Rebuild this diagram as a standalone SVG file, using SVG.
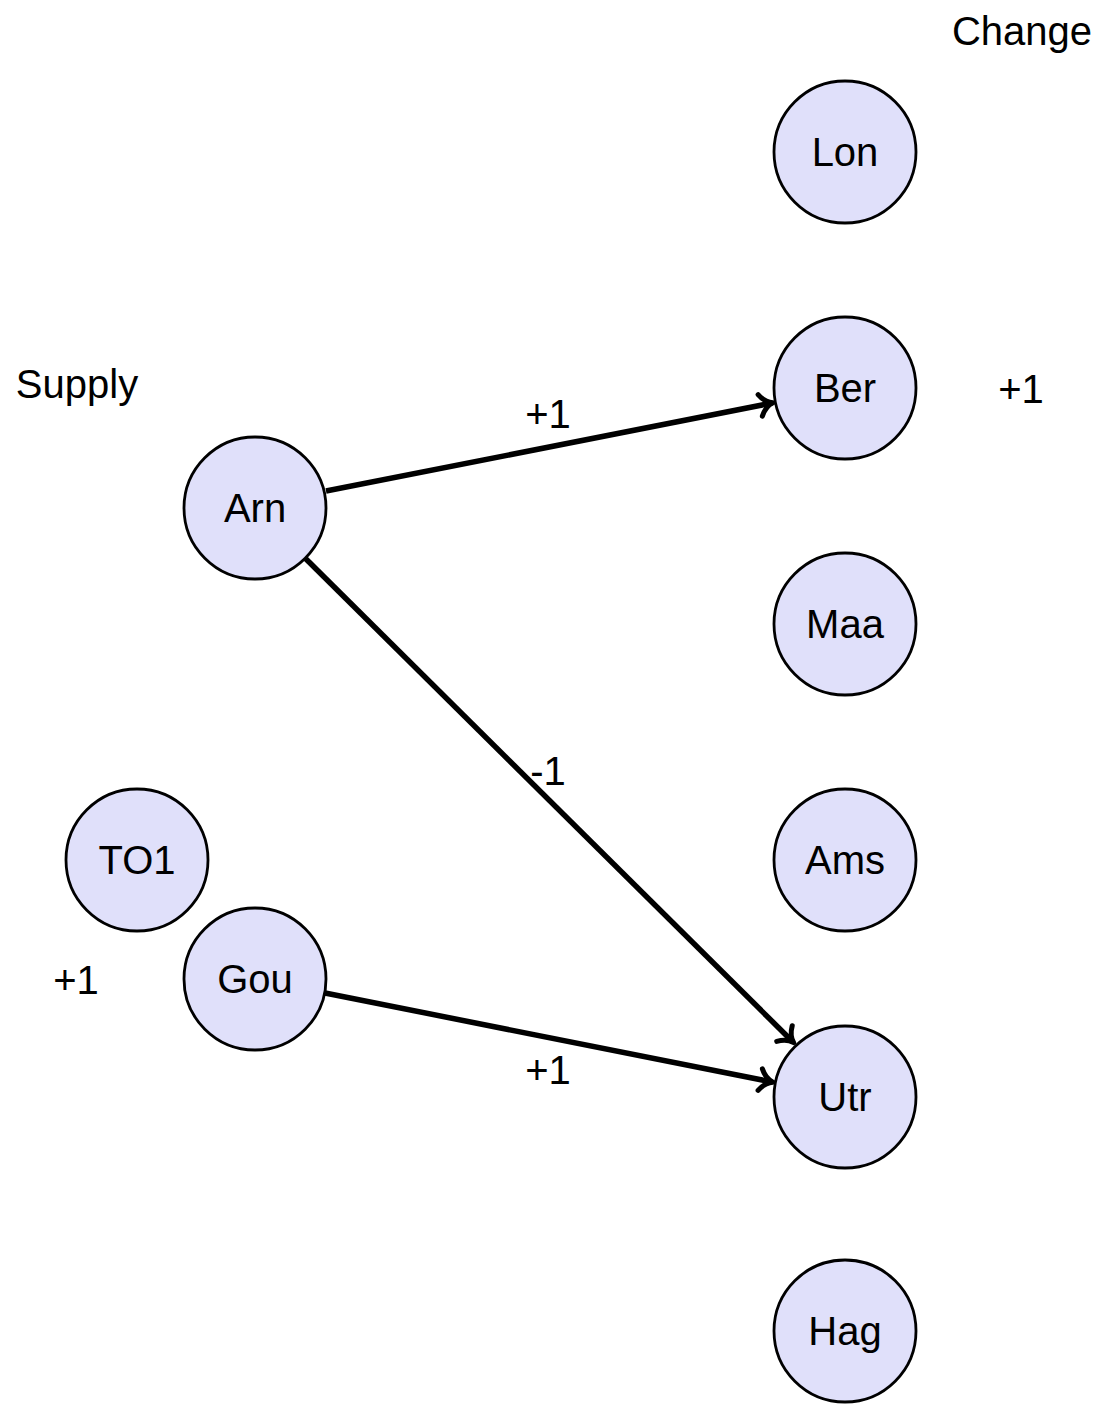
<svg xmlns="http://www.w3.org/2000/svg" width="1109" height="1405" viewBox="0 0 1109 1405">
<style>
.node circle{fill:#e0e0fa;stroke:#000;stroke-width:2.8}
text{font-family:"Liberation Sans",Arial,sans-serif;font-size:40px;fill:#000}
.node text{text-anchor:middle}
.lbl{text-anchor:middle}
.edge{fill:none;stroke:#000;stroke-width:5.5}
</style>
<defs>
<marker id="to" markerUnits="userSpaceOnUse" viewBox="-16 -14 20 28" refX="0" refY="0" markerWidth="20" markerHeight="28" orient="auto" overflow="visible">
<path d="M-12,-11 C-8,-4 -3,-1 1,0 C-3,1 -8,4 -12,11" fill="none" stroke="#000" stroke-width="5" stroke-linecap="round" stroke-linejoin="round"/>
</marker>
</defs>
<rect width="1109" height="1405" fill="#fff"/>
<g id="connectors">
<path class="edge" d="M326,491 L772,403" marker-end="url(#to)"/>
<path class="edge" d="M305,558 L793,1042" marker-end="url(#to)"/>
<path class="edge" d="M325,993 L772,1082" marker-end="url(#to)"/>
<text class="lbl" x="548" y="428">+1</text>
<text class="lbl" x="548" y="785">-1</text>
<text class="lbl" x="548" y="1084">+1</text>
</g>
<g id="Lon" class="node"><circle cx="845" cy="152" r="71"/><text x="845" y="166">Lon</text></g>
<g id="Ber" class="node"><circle cx="845" cy="388" r="71"/><text x="845" y="402">Ber</text></g>
<g id="Maa" class="node"><circle cx="845" cy="624" r="71"/><text x="845" y="638">Maa</text></g>
<g id="Ams" class="node"><circle cx="845" cy="860" r="71"/><text x="845" y="874">Ams</text></g>
<g id="Utr" class="node"><circle cx="845" cy="1097" r="71"/><text x="845" y="1111">Utr</text></g>
<g id="Hag" class="node"><circle cx="845" cy="1331" r="71"/><text x="845" y="1345">Hag</text></g>
<g id="Arn" class="node"><circle cx="255" cy="508" r="71"/><text x="255" y="522">Arn</text></g>
<g id="TO1" class="node"><circle cx="137" cy="860" r="71"/><text x="137" y="874">TO1</text></g>
<g id="Gou" class="node"><circle cx="255" cy="979" r="71"/><text x="255" y="993">Gou</text></g>
<text class="lbl" x="1022" y="45">Change</text>
<text class="lbl" x="77" y="398">Supply</text>
<text class="lbl" x="1021" y="403">+1</text>
<text class="lbl" x="76" y="994">+1</text>
</svg>
